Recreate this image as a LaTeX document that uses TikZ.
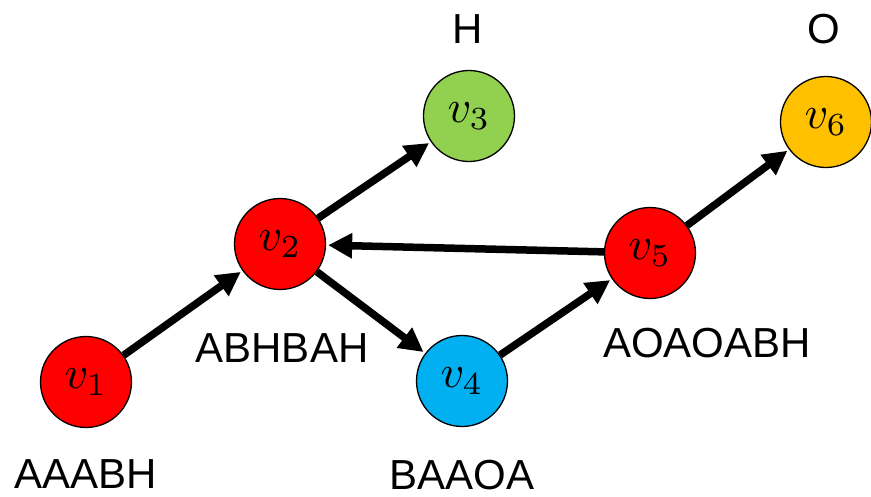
\documentclass[tikz,border=0pt]{standalone}
\usepackage{graphicx}
\usepackage{fontspec}
\newfontfamily\lblfont{Liberation Sans}
\usetikzlibrary{arrows.meta}
\definecolor{vred}{HTML}{FF0000}
\definecolor{vgreen}{HTML}{92D050}
\definecolor{vblue}{HTML}{00B0F0}
\definecolor{vorange}{HTML}{FFC000}
\newcommand{\vname}[1]{\scalebox{4.6}{$v_{#1}$}}
\begin{document}
\begin{tikzpicture}[x=1pt,y=-1pt,
  vertex/.style={circle, draw=black, line width=1.3pt, minimum size=91pt,
    inner sep=0pt},
  link/.style={line width=7.5pt, -{Triangle[length=24pt,width=24pt]},
    shorten >=2pt},
  tag/.style={font=\lblfont\fontsize{42}{48}\selectfont, anchor=base,
    inner sep=0pt}]
\useasboundingbox (0,0) rectangle (871,496);

% vertices
\node[vertex, fill=vred]    (v1) at (86,382)  {\vname{1}};
\node[vertex, fill=vred]    (v2) at (280,244) {\vname{2}};
\node[vertex, fill=vgreen]  (v3) at (469,116) {\vname{3}};
\node[vertex, fill=vblue]   (v4) at (462,381) {\vname{4}};
\node[vertex, fill=vred]    (v5) at (650,253) {\vname{5}};
\node[vertex, fill=vorange] (v6) at (826,122) {\vname{6}};

% strings attached to the vertices
\node[tag] (s1) at (86,488)  {AAABH};
\node[tag] (s2) at (282,362) {ABHBAH};
\node[tag] (s3) at (468,43)  {H};
\node[tag] (s4) at (462,489) {BAAOA};
\node[tag] (s5) at (707,357) {AOAOABH};
\node[tag] (s6) at (824,43)  {O};

% directed edges
\draw[link] (v1) -- (v2);
\draw[link] (v2) -- (v3);
\draw[link] (v2) -- (v4);
\draw[link] (v4) -- (v5);
\draw[link] (v5) -- (v2);
\draw[link] (v5) -- (v6);
\end{tikzpicture}
\end{document}
